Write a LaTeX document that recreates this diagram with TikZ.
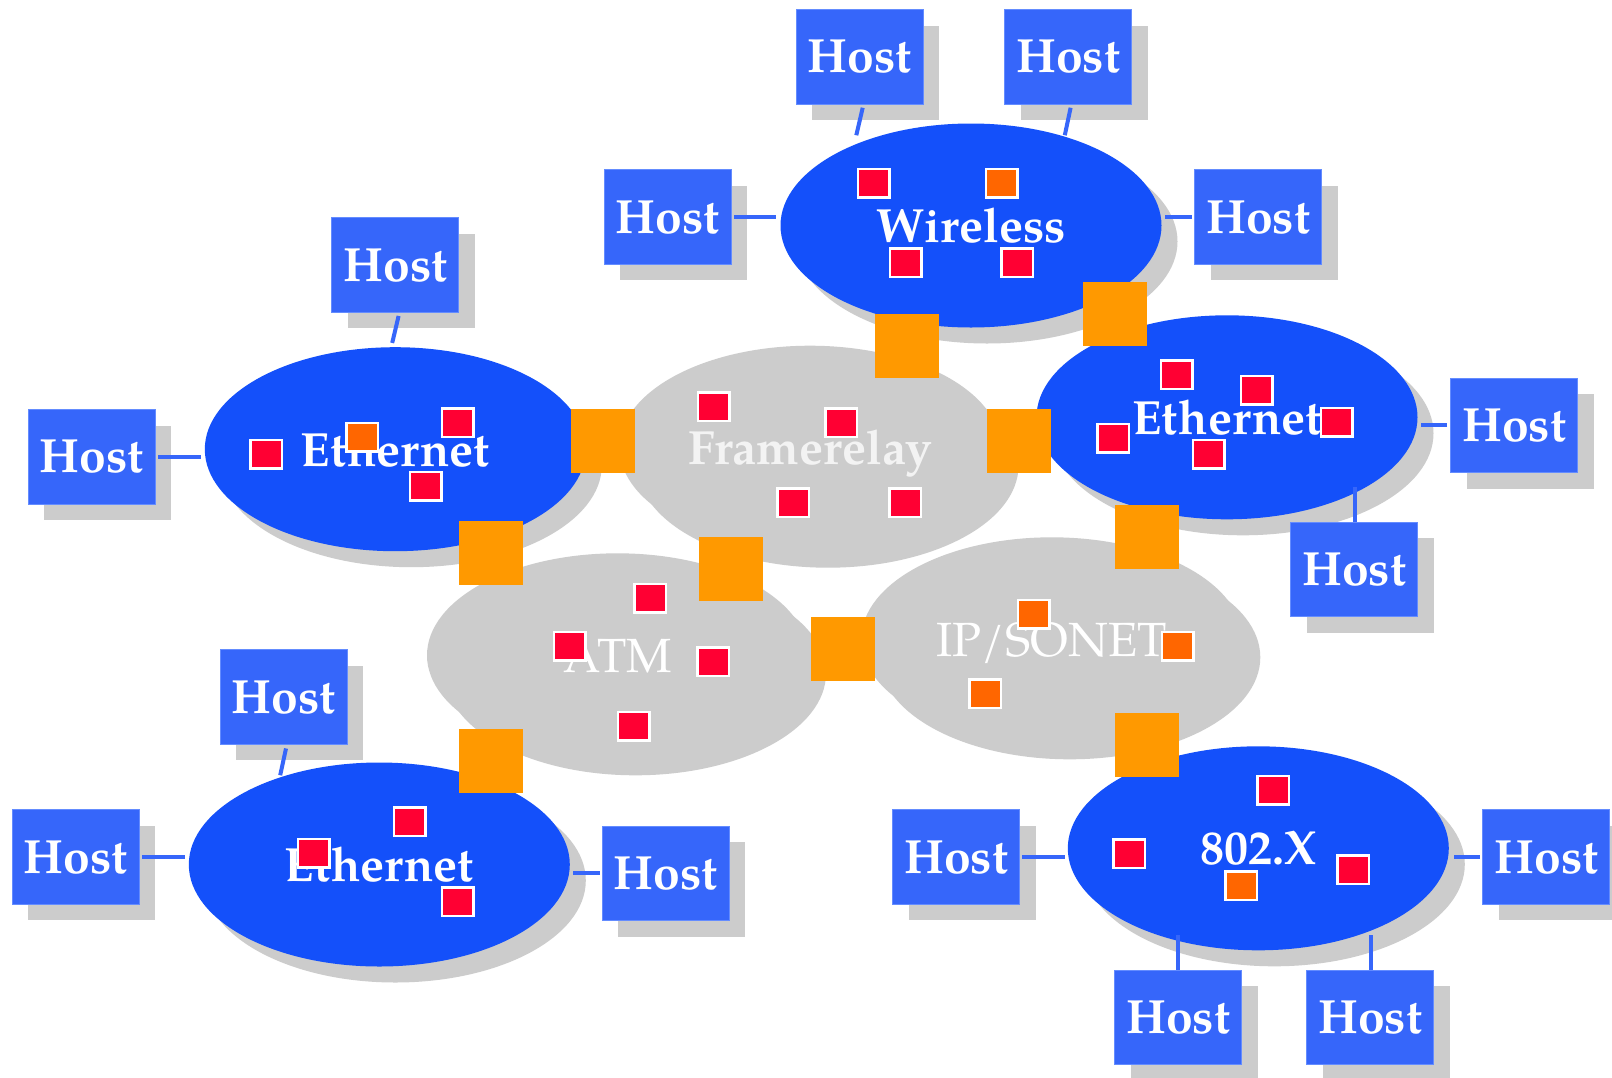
\documentclass[tikz,border=0pt]{standalone}
\usepackage{fontspec}
\setmainfont{texgyrepagella}[Extension=.otf, UprightFont=*-regular, BoldFont=*-bold, ItalicFont=*-italic, BoldItalicFont=*-bolditalic]
\usetikzlibrary{shapes.geometric,shadows,calc}

\definecolor{ellblue}{RGB}{20,80,250}
\definecolor{hostblue}{RGB}{54,102,250}
\definecolor{hostedge}{RGB}{100,140,255}
\definecolor{shgray}{RGB}{204,204,204}
\definecolor{frtext}{RGB}{243,243,243}
\definecolor{bigorange}{RGB}{255,153,0}
\definecolor{pktred}{RGB}{255,0,51}
\definecolor{pktorange}{RGB}{255,102,0}

\tikzset{
  host/.style={rectangle, fill=hostblue, draw=hostedge, line width=1pt,
    minimum width=127pt, minimum height=94.5pt, inner sep=0pt, text=white,
    font=\fontsize{48}{48}\selectfont\bfseries,
    drop shadow={shadow xshift=16pt, shadow yshift=-16pt, opacity=1, fill=shgray}},
  net/.style={ellipse, fill=ellblue, minimum width=381pt, minimum height=204pt,
    inner sep=0pt, text=white, text depth=0pt,
    font=\fontsize{48}{48}\selectfont\bfseries,
    drop shadow={shadow xshift=16pt, shadow yshift=-16pt, opacity=1, fill=shgray}},
  backbone/.style={ellipse, fill=shgray, minimum width=381pt, minimum height=204pt,
    inner sep=0pt, text=white, text depth=0pt,
    font=\fontsize{48}{48}\selectfont,
    drop shadow={shadow xshift=18pt, shadow yshift=-18pt, opacity=1, fill=shgray}},
  gate/.style={rectangle, fill=bigorange, minimum size=64pt, inner sep=0pt},
  pkt/.style={rectangle, fill=pktred, draw=white, line width=2.5pt,
    minimum width=31.5pt, minimum height=28.5pt, inner sep=0pt},
  pkto/.style={pkt, fill=pktorange},
  link/.style={draw=hostblue, line width=4pt}
}

\begin{document}
\begin{tikzpicture}[x=1pt,y=-1pt]
\useasboundingbox (0,0) rectangle (1612,1077);
\fill[white] (0,0) rectangle (1612,1077);

% backbone clouds
\node[backbone, text=frtext, font=\fontsize{48}{48}\selectfont\bfseries] (fr) at (810,447.7) {Framerelay};
\node[backbone] (atm) at (617.5,655.3) {ATM};
\node[backbone] (ip)  at (1051.8,639.3) {IP/SONET};

% access networks
\node[net] (wl) at (971,225.5)    {Wireless};
\node[net] (e1) at (395.3,449.2)  {Ethernet};
\node[net] (e2) at (1227,417.3)   {Ethernet};
\node[net] (e3) at (379.3,864.5)  {Ethernet};
\node[net] (e4) at (1258.3,848.3) {802.X};

% hosts
\node[host] (h1) at (859.7,57)     {Host};
\node[host] (h2) at (1068,57)      {Host};
\node[host] (h3) at (667.8,217.2)  {Host};
\node[host] (h4) at (1258,217.2)   {Host};
\node[host] (ha) at (395.4,265.2)  {Host};
\node[host] (hb) at (91.5,457)     {Host};
\node[host] (hc) at (1514,425.3)   {Host};
\node[host] (hd) at (1354,569.3)   {Host};
\node[host] (he) at (283.5,697.2)  {Host};
\node[host] (hf) at (75.6,857.2)   {Host};
\node[host] (hg) at (665.5,873.3)  {Host};
\node[host] (hh) at (956,857.2)    {Host};
\node[host] (hi) at (1546.3,857.2) {Host};
\node[host] (hj) at (1178.2,1017.3) {Host};
\node[host] (hk) at (1370,1017.3)  {Host};

% host links
\draw[link] ($(h1.south)+(3,3)$) -- ($(h1.south)+(-3.4,30.5)$);
\draw[link] ($(h2.south)+(2.6,3)$) -- ($(h2.south)+(-3.2,30.5)$);
\draw[link] ($(h3.east)+(2,0)$) -- ($(h3.east -| wl.west)+(-4,0)$);
\draw[link] ($(h4.west)+(-2,0)$) -- ($(h4.west -| wl.east)+(3.5,0)$);
\draw[link] ($(ha.south)+(3.2,3)$) -- ($(ha.south)+(-3.2,30)$);
\draw[link] ($(hb.east)+(2.5,0)$) -- ($(hb.east -| e1.west)+(-4,0)$);
\draw[link] ($(hc.west)+(-3,0)$) -- ($(hc.west -| e2.east)+(3.5,0)$);
\draw[link] ($(hd.north)+(0.5,0)$) -- ($(hd.north)+(0.5,-35)$);
\draw[link] ($(he.south)+(2.5,3.5)$) -- ($(he.south)+(-3.3,30.3)$);
\draw[link] ($(hf.east)+(2.5,0)$) -- ($(hf.east -| e3.west)+(-3.6,0)$);
\draw[link] ($(hg.west)+(-2,0)$) -- ($(hg.west -| e3.east)+(3,0)$);
\draw[link] ($(hh.east)+(2,0)$) -- ($(hh.east -| e4.west)+(-2.5,0)$);
\draw[link] ($(hi.west)+(-2.5,0)$) -- ($(hi.west -| e4.east)+(4.5,0)$);
\draw[link] (hj.north) -- ($(hj.north)+(0,-34.5)$);
\draw[link] ($(hk.north)+(0.8,0)$) -- ($(hk.north)+(0.8,-34.5)$);

% gateways
\node[gate] (g1)  at (907,345.5)    {};
\node[gate] (g2)  at (1114.6,313.7) {};
\node[gate] (g3)  at (603.4,441.3)  {};
\node[gate] (g4)  at (1018.7,441.3) {};
\node[gate] (g5)  at (490.9,553)    {};
\node[gate] (g6)  at (731.1,569)    {};
\node[gate] (g7)  at (842.8,649)    {};
\node[gate] (g8)  at (1146.6,537)   {};
\node[gate] (g9)  at (1146.6,744.8) {};
\node[gate] (g10) at (490.9,761)    {};

% packets: Wireless
\node[pkt]  (pw1) at (873.5,183)    {};
\node[pkto] (pw2) at (1001.7,183)   {};
\node[pkt]  (pw3) at (905.5,262.5)  {};
\node[pkt]  (pw4) at (1017.4,262.5) {};
% Ethernet left
\node[pkt]  (pa1) at (266.1,454.3) {};
\node[pkto] (pa2) at (362.2,437.3) {};
\node[pkt]  (pa3) at (457.5,422.7) {};
\node[pkt]  (pa4) at (425.6,486.2) {};
% Framerelay
\node[pkt] (pf1) at (713.5,406.5) {};
\node[pkt] (pf2) at (841.4,422.7) {};
\node[pkt] (pf3) at (793,502.7)   {};
\node[pkt] (pf4) at (905.2,502.7) {};
% Ethernet right
\node[pkt] (pb1) at (1176.9,374.7) {};
\node[pkt] (pb2) at (1256.9,390.3) {};
\node[pkt] (pb3) at (1336.7,422.3) {};
\node[pkt] (pb4) at (1113.1,438.3) {};
\node[pkt] (pb5) at (1208.8,454.3) {};
% ATM
\node[pkt] (pt1) at (650,598.3)   {};
\node[pkt] (pt2) at (569.7,646)   {};
\node[pkt] (pt3) at (713.4,661.7) {};
\node[pkt] (pt4) at (633.8,726.2) {};
% IP/SONET
\node[pkto] (ps1) at (1033.6,614)   {};
\node[pkto] (ps2) at (1177.6,646.2) {};
\node[pkto] (ps3) at (985,693.8)    {};
% Ethernet bottom
\node[pkt] (pc1) at (409.8,821.8) {};
\node[pkt] (pc2) at (313.8,853.3) {};
\node[pkt] (pc3) at (457.8,901.8) {};
% 802.X
\node[pkt]  (px1) at (1273.2,790)   {};
\node[pkt]  (px2) at (1129.3,853.8) {};
\node[pkto] (px3) at (1241.3,885.8) {};
\node[pkt]  (px4) at (1353,869.8)   {};
\end{tikzpicture}
\end{document}
